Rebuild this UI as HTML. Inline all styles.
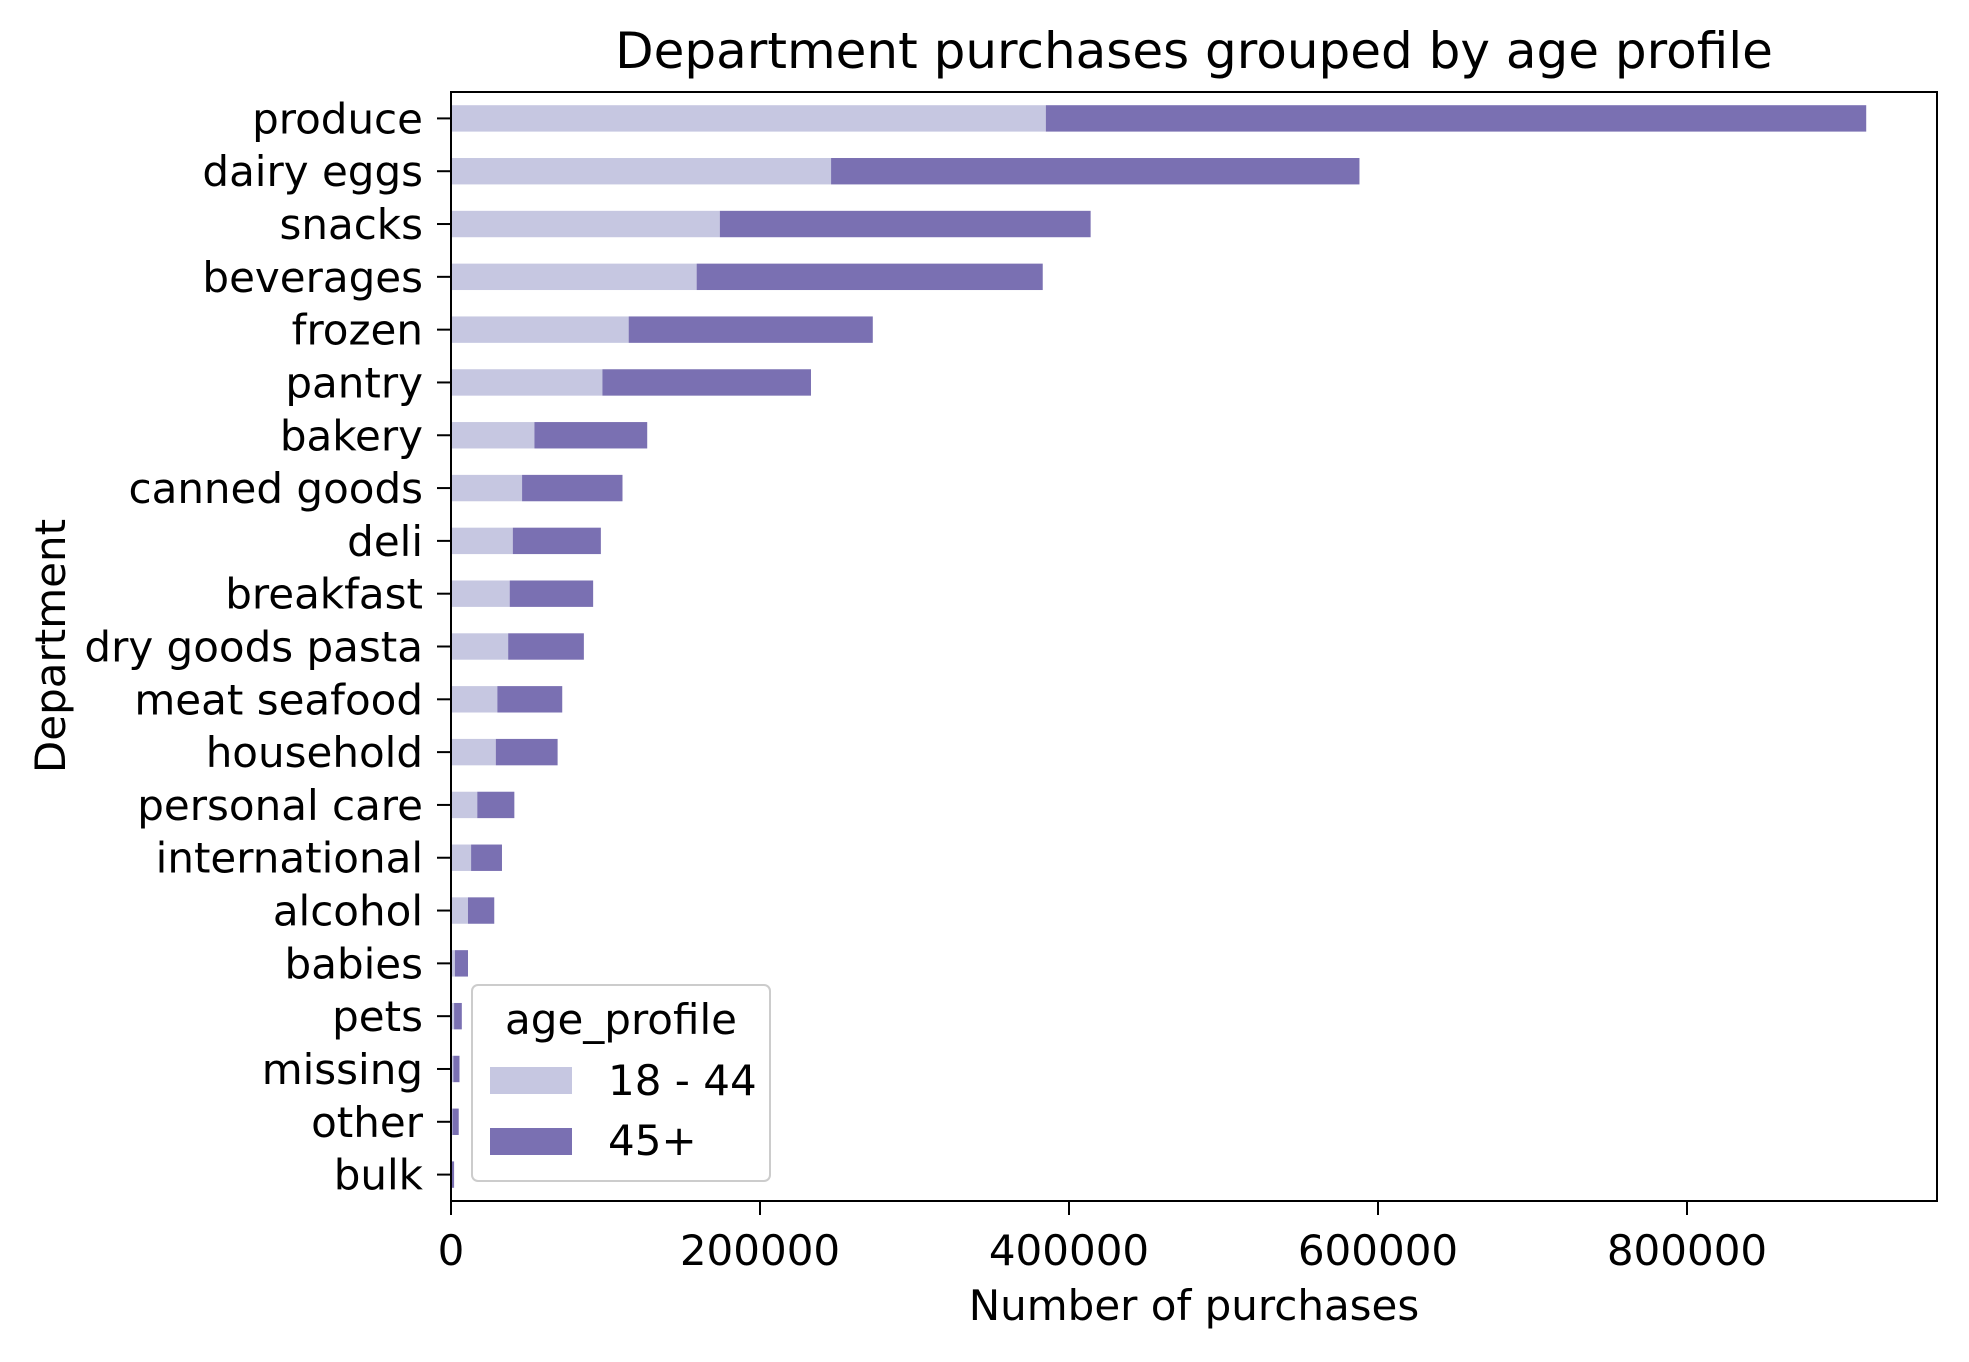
<!DOCTYPE html>
<html><head><meta charset="utf-8"><style>
html,body{margin:0;padding:0;background:#fff;}
svg text{font-family:"DejaVu Sans","Liberation Sans",sans-serif;fill:#000;}
</style></head><body>
<svg id="chart" width="1969" height="1357" viewBox="0 0 1969 1357" xmlns="http://www.w3.org/2000/svg">
<rect width="1969" height="1357" fill="#fff"/>
<text x="1194" y="68" font-size="50" text-anchor="middle">Department purchases grouped by age profile</text>
<g id="bars"></g>
<g id="yticks"></g>
<g id="xticks"></g>
<rect x="451" y="92" width="1486" height="1109" fill="none" stroke="#000" stroke-width="2"/>
<text x="1194" y="1320" font-size="42" text-anchor="middle">Number of purchases</text>
<text x="0" y="0" font-size="42" text-anchor="middle" transform="translate(65,646) rotate(-90)">Department</text>
<g>
<rect x="472" y="985" width="298" height="196" rx="6" fill="#fff" fill-opacity="0.8" stroke="#ccc" stroke-width="2"/>
<text x="621" y="1034" font-size="42" text-anchor="middle">age_profile</text>
<rect x="490" y="1067" width="82" height="27" fill="#c6c7e1"/>
<text x="608" y="1095" font-size="42">18 - 44</text>
<rect x="490" y="1128" width="82" height="27" fill="#7a70b2"/>
<text x="608" y="1155" font-size="42">45+</text>
</g>
</svg>
<script>
const categories = ["produce","dairy eggs","snacks","beverages","frozen","pantry","bakery","canned goods","deli","breakfast","dry goods pasta","meat seafood","household","personal care","international","alcohol","babies","pets","missing","other","bulk"];
const young = [385000,246000,174000,159000,115000,98000,54000,46000,40000,38000,37000,30000,29000,17000,13000,11000,2500,2000,1500,1000,500];
const older = [531000,342000,240000,224000,158000,135000,73000,65000,57000,54000,49000,42000,40000,24000,20000,17000,8500,5000,4000,4000,1500];
const xTicks = [0,200000,400000,600000,800000];

const NS="http://www.w3.org/2000/svg";
const L=451,R=1937,T=92,B=1201;
const xPerUnit=309/200000;
function xs(v){return L+v*xPerUnit;}
const step=(B-T)/categories.length;
function yc(i){return T+step*(i+0.5);}
const barH=step*0.5;
function mk(tag,attrs,parent){const e=document.createElementNS(NS,tag);for(const k in attrs)e.setAttribute(k,attrs[k]);parent.appendChild(e);return e;}
const gb=document.getElementById('bars'),gy=document.getElementById('yticks'),gx=document.getElementById('xticks');
categories.forEach((c,i)=>{
  const y=yc(i)-barH/2;
  const slug=c.replace(/\s+/g,'-');
  const a=mk('rect',{x:xs(0),y:y,width:xs(young[i])-xs(0),height:barH,fill:'#c6c7e1'},gb);
  
  
  const b=mk('rect',{x:xs(young[i]),y:y,width:xs(young[i]+older[i])-xs(young[i]),height:barH,fill:'#7a70b2'},gb);
  
  
  const tk=mk('line',{x1:L-14,x2:L,y1:yc(i),y2:yc(i),stroke:'#000','stroke-width':2},gy);
  
  
  const t=mk('text',{x:L-28,y:yc(i)+15,'font-size':42,'text-anchor':'end'},gy);
  t.textContent=c;
  
  
});
xTicks.forEach(v=>{
  const tk=mk('line',{x1:xs(v),x2:xs(v),y1:B,y2:B+14,stroke:'#000','stroke-width':2},gx);
  
  
  const t=mk('text',{x:xs(v),y:B+64,'font-size':42,'text-anchor':'middle'},gx);
  t.textContent=String(v);
  
  
});
</script>
</body></html>
